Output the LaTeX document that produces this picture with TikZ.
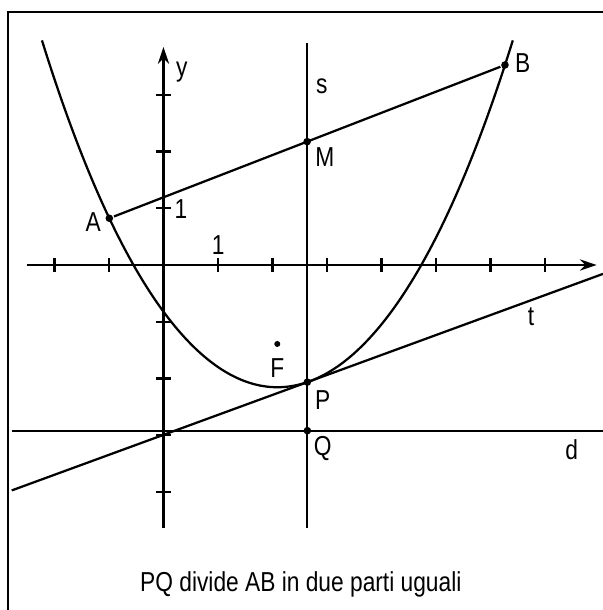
\documentclass[tikz,border=0pt]{standalone}
\usepackage{fontspec}
\setmainfont{Liberation Sans}[FakeStretch=0.83]
\usepackage{tikz}
\usetikzlibrary{arrows.meta, positioning, calc}

\begin{document}
\begin{tikzpicture}[
    x=1.3625cm, y=1.4175cm,
    line width=1.6pt,
    dot/.style={circle, fill, inner sep=0pt, minimum size=0.19cm},
    lbl/.style={inner sep=0pt, font=\fontsize{19.5}{23}\selectfont},
    axis/.style={-{Stealth[length=0.42cm, width=0.28cm]}},
    >=Stealth
]
    \useasboundingbox (-3.0,-6.085) rectangle (8.064,4.674);
    \draw (-2.848,-6.085) -- (-2.848,4.467) -- (8.064,4.467);

    % axes
    \coordinate (xl) at (-2.51,0);
    \coordinate (xr) at (7.949,0);
    \coordinate (yb) at (0,-4.638);
    \coordinate (yt) at (0,3.845);
    \draw[axis] (xl) -- (xr);
    \draw[axis] (yb) -- (yt);
    \foreach \i in {-2,-1,1,2,...,7}
        \draw (\i,-0.123) -- (\i,0.123);
    \foreach \j in {-4,-3,-2,-1,1,2,3}
        \draw (-0.141,\j) -- (0.141,\j);
    \node[lbl] (ylab) at (0.334,3.409) {y};
    \node[lbl] (yone) at (0.321,0.988) {1};
    \node[lbl] (xone) at (1.006,0.353) {1};

    % parabola
    \draw[domain=-2.23:6.41, samples=90, smooth]
        plot (\x, {-2.156+0.2982*(\x-2.09)^2+0.00159*(\x-2.09)^4});

    \node[dot] (A) at (-0.994,0.824) {};
    \node[dot] (B) at (6.266,3.528) {};
    \node[dot] (M) at ($(A)!0.5!(B)$) {};
    \node[dot] (P) at (2.64,-2.066) {};
    \node[dot] (Q) at (2.64,-2.922) {};
    \node[dot, minimum size=0.15cm] (F) at (2.088,-1.393) {};

    \coordinate (s1) at (2.64,3.91);
    \coordinate (s2) at (2.64,-4.644);
    \coordinate (d1) at (-2.785,-2.922);
    \coordinate (d2) at (8.064,-2.922);
    \coordinate (t1) at (-2.785,-3.976);
    \coordinate (t2) at (8.064,-0.157);

    \draw (A) -- (B);
    \draw (s1) -- (s2);
    \draw (d1) -- (d2);
    \draw (t1) -- (t2);

    \node[lbl] (Alab) at (-1.288,0.764) {A};
    \node[lbl] (Blab) at (6.591,3.568) {B};
    \node[lbl] (Mlab) at (2.963,1.910) {M};
    \node[lbl] (slab) at (2.903,3.157) {s};
    \node[lbl] (tlab) at (6.743,-0.912) {t};
    \node[lbl] (Flab) at (2.088,-1.822) {F};
    \node[lbl] (Plab) at (2.921,-2.381) {P};
    \node[lbl] (Qlab) at (2.921,-3.233) {Q};
    \node[lbl] (dlab) at (7.49,-3.263) {d};

    \node[lbl, anchor=base] (cap) at (2.52,-5.76) {PQ divide AB in due parti uguali};
\end{tikzpicture}
\end{document}
